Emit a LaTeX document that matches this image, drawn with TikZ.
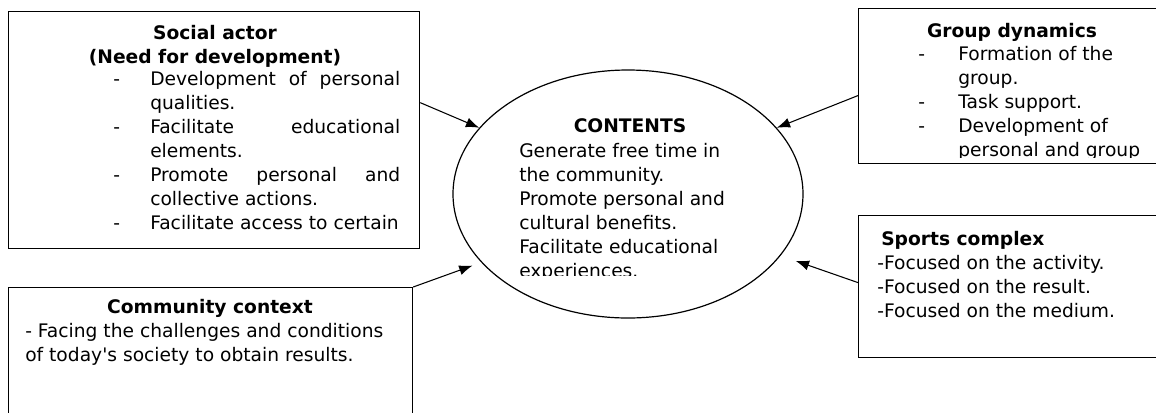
\documentclass[tikz,border=0pt]{standalone}
\usepackage{fontspec}
\setmainfont{DejaVu Sans}
\usetikzlibrary{shapes.geometric,arrows.meta}

\newlength\unitpx
\setlength\unitpx{0.75pt}
% one item of a dash list, with a hanging indent
\newcommand\dashitem[1][37]{\par\hangindent=#1\unitpx\hangafter=1\noindent\makebox[#1\unitpx][l]{-}\ignorespaces}

\tikzset{
  box/.style={draw, line width=0.9pt, rectangle, anchor=north west, inner sep=0pt},
  txt/.style={inner sep=0pt, font=\fontsize{14}{18}\selectfont},
  link/.style={-{Latex[length=10pt,width=7.5pt]}, line width=0.8pt},
}

\begin{document}
\begin{tikzpicture}[x=0.75pt,y=-0.75pt]
\useasboundingbox (0,0) rectangle (1156,412);
\clip (0,0) rectangle (1156,412);

% frames
\node[box, minimum width=411*\unitpx, minimum height=237*\unitpx] (social) at (8,11) {};
\node[box, minimum width=330*\unitpx, minimum height=155*\unitpx] (group) at (858,8) {};
\node[box, minimum width=404*\unitpx, minimum height=160*\unitpx] (community) at (8,287) {};
\node[box, minimum width=330*\unitpx, minimum height=142*\unitpx] (sports) at (858,215) {};
\node[draw, line width=0.9pt, ellipse, inner sep=0pt,
      minimum width=350*\unitpx, minimum height=248*\unitpx] (contents) at (628,194) {};

% social actor
\node[txt, anchor=base] (socialtitle) at (215,39)
  {\parbox[t]{330\unitpx}{\centering\bfseries Social actor\\(Need for development)}};
\node[txt, anchor=base west] (sociallist) at (113,85) {\parbox[t]{287\unitpx}{%
  \dashitem Development of personal\linebreak qualities.
  \dashitem Facilitate educational\linebreak elements.
  \dashitem Promote personal and\linebreak collective actions.
  \dashitem Facilitate access to certain}};

% group dynamics
\node[txt, anchor=base] (grouptitle) at (1012,37) {\textbf{Group dynamics}};
\begin{scope}
\clip (858,8) rectangle (1156,157);
\node[txt, anchor=base west] (grouplist) at (918,60) {\parbox[t]{230\unitpx}{%
  \dashitem[40] Formation of the\\group.
  \dashitem[40] Task support.
  \dashitem[40] Development of\\personal and group}};
\end{scope}

% community context
\node[txt, anchor=base] (communitytitle) at (210,313) {\textbf{Community context}};
\node[txt, anchor=base west] (communitytext) at (25,337)
  {\parbox[t]{380\unitpx}{- Facing the challenges and conditions\\of today\textquotesingle s society to obtain results.}};

% sports complex
\node[txt, anchor=base west] (sportstext) at (877,245) {\parbox[t]{260\unitpx}{%
  \hspace*{4\unitpx}\textbf{Sports complex}\\
  -Focused on the activity.\\
  -Focused on the result.\\
  -Focused on the medium.}};

% contents
\begin{scope}
\clip (453,70) rectangle (803,275);
\node[txt, anchor=base] (contentstitle) at (630,132) {\textbf{CONTENTS}};
\node[txt, anchor=base west] (contentstext) at (519,157) {\parbox[t]{220\unitpx}{%
  Generate free time in\\the community.\\Promote personal and\\cultural benefits.\\
  Facilitate educational\\experiences.}};
\end{scope}

% arrows
\draw[link] ([yshift=20.6pt]social.east) -- (contents.156);
\draw[link] ([yshift=-7.1pt]group.west) -- (contents.24);
\draw[link, shorten >=7pt] (community.north east) -- (contents.205);
\draw[link, shorten >=12pt] ([yshift=3pt]sports.west) -- (contents.338);

\end{tikzpicture}
\end{document}
